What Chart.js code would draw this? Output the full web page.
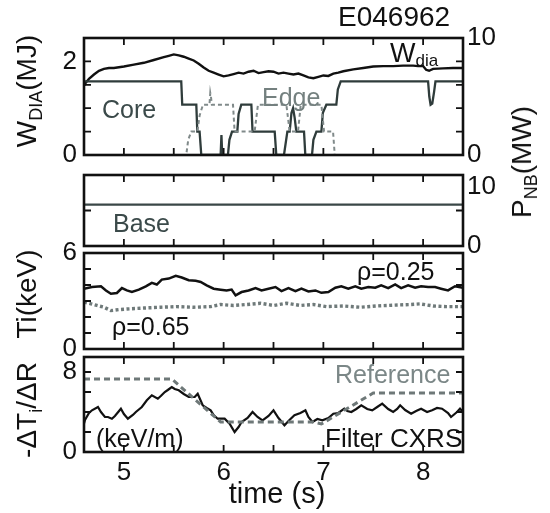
<!DOCTYPE html>
<html>
<head>
<meta charset="utf-8">
<script src="https://cdn.jsdelivr.net/npm/chart.js@4.4.1/dist/chart.umd.min.js"></script>
<style>
  html, body { margin: 0; padding: 0; background: #fff; }
  #fig { position: relative; width: 550px; height: 513px; overflow: hidden;
         font-family: "Liberation Sans", Arial, Helvetica, sans-serif; color: #111; }
  #fig canvas { position: absolute; left: 0; }
  .t { position: absolute; white-space: nowrap; line-height: 1; }
  .rot { transform: translate(-50%, -50%) rotate(-90deg); font-size: 28px; }
  .sb { font-size: 18px; position: relative; top: 6px; }
</style>
</head>
<body>
<div id="fig">
  <canvas id="c1" width="550" height="170" style="top:0px"></canvas>
  <canvas id="c2" width="550" height="100" style="top:160px"></canvas>
  <canvas id="c3" width="550" height="120" style="top:240px"></canvas>
  <canvas id="c4" width="550" height="173" style="top:340px"></canvas>

  <div class="t" style="left:338px;top:3px;font-size:28px">E046962</div>
  <div class="t" style="left:390px;top:40px;font-size:27px">W<span style="font-size:17px;position:relative;top:4px">dia</span></div>
  <div class="t" style="left:102px;top:97px;font-size:25px;color:#3b4a4a">Core</div>
  <div class="t" style="left:262px;top:85px;font-size:25px;color:#74807f">Edge</div>
  <div class="t" style="left:113px;top:211px;font-size:25px;color:#3b4a4a">Base</div>
  <div class="t" style="left:357px;top:259px;font-size:25px">ρ=0.25</div>
  <div class="t" style="left:112px;top:314px;font-size:25px">ρ=0.65</div>
  <div class="t" style="left:335px;top:362px;font-size:25px;color:#7b8787">Reference</div>
  <div class="t" style="left:96px;top:426px;font-size:25px">(keV/m)</div>
  <div class="t" style="left:325px;top:425px;font-size:26px">Filter CXRS</div>
  <div class="t" style="left:277px;top:479px;font-size:29px;transform:translateX(-50%)">time (s)</div>

  <div class="t rot" style="left:27px;top:91px">W<span class="sb">DIA</span>(MJ)</div>
  <div class="t rot" style="left:27px;top:294px">Ti(keV)</div>
  <div class="t rot" style="left:27px;top:410px">-ΔT<span class="sb">i</span>/ΔR</div>
  <div class="t rot" style="left:522px;top:162px">P<span class="sb">NB</span>(MW)</div>
</div>

<script>
// ---- shared time axis (s) ----
const tMin = 4.6, tMax = 8.4;
const timeTicks = [5, 5.5, 6, 6.5, 7, 7.5, 8];
const timeTickLabels = [5, 6, 7, 8];

// ---- diamagnetic stored energy (MJ) ----
const wdiaTime = [4.60, 4.62, 4.65, 4.70, 4.75, 4.80, 4.85, 4.90, 5.00, 5.10, 5.20, 5.30, 5.40,
  5.45, 5.50, 5.55, 5.60, 5.65, 5.70, 5.75, 5.80, 5.85, 5.90, 5.95, 6.00, 6.05, 6.10, 6.15, 6.20,
  6.25, 6.30, 6.35, 6.40, 6.45, 6.50, 6.55, 6.60, 6.65, 6.70, 6.75, 6.80, 6.85, 6.90, 6.95, 7.00,
  7.05, 7.10, 7.15, 7.20, 7.30, 7.40, 7.50, 7.60, 7.70, 7.80, 7.90, 7.95, 8.00, 8.03, 8.06, 8.10,
  8.20, 8.30, 8.40];
const wdiaEnergy = [1.48, 1.55, 1.63, 1.72, 1.80, 1.84, 1.86, 1.86, 1.89, 1.93, 1.97, 2.03, 2.09,
  2.12, 2.15, 2.13, 2.10, 2.06, 2.02, 1.95, 1.87, 1.80, 1.76, 1.72, 1.68, 1.70, 1.73, 1.76, 1.74,
  1.78, 1.80, 1.75, 1.77, 1.79, 1.78, 1.74, 1.76, 1.74, 1.72, 1.74, 1.70, 1.66, 1.64, 1.67, 1.70,
  1.69, 1.74, 1.76, 1.79, 1.83, 1.86, 1.89, 1.90, 1.90, 1.91, 1.91, 1.90, 1.90, 1.82, 1.80, 1.84,
  1.85, 1.86, 1.86];
const wdiaTicks = [0, 0.5, 1, 1.5, 2];
const wdiaTickLabels = [0, 2];

// ---- NBI power (MW): core and edge beams, base beams ----
const coreTime = [4.6, 5.575, 5.585, 5.726, 5.736, 5.759, 5.776, 5.970, 5.978, 5.986, 6.043, 6.058,
  6.084, 6.137, 6.150, 6.177, 6.278, 6.290, 6.512, 6.528, 6.605, 6.639, 6.662, 6.680, 6.696, 6.712,
  6.729, 6.806, 6.819, 6.886, 6.900, 6.930, 6.980, 6.995, 7.030, 7.130, 7.145, 7.174, 8.050, 8.062,
  8.075, 8.092, 8.110, 8.124, 8.4];
const corePower = [6.3, 6.3, 4.3, 4.3, 2.0, 2.0, 0, 0, 1.7, 0, 0, 1.3,
  2.0, 2.0, 3.5, 4.3, 4.3, 2.0, 2.0, 0, 0, 2.0, 2.0, 3.6, 4.0, 3.2,
  2.0, 2.0, 0, 0, 1.3, 2.0, 2.0, 3.6, 4.3, 4.3, 5.6, 6.3, 6.3, 5.0,
  4.3, 4.4, 5.4, 6.3, 6.3];
const edgeTime = [4.6, 5.625, 5.645, 5.676, 5.736, 5.760, 5.793, 5.858, 5.866, 5.874, 5.882, 6.094,
  6.110, 6.311, 6.344, 6.629, 6.662, 6.746, 6.773, 6.980, 7.007, 7.097, 7.114, 8.4];
const edgePower = [0, 0, 1.3, 2.0, 2.0, 3.4, 4.3, 4.3, 5.3, 4.9, 4.3, 4.3,
  2.0, 2.0, 4.3, 4.3, 2.0, 2.0, 4.3, 4.3, 2.0, 2.0, 0, 0];
const baseTime = [4.6, 8.4];
const basePower = [7.0, 7.0];
const pnbTicks = [0, 2, 4, 6, 8, 10];
const pnbTickLabels = [0, 10];
const baseTicks = [0, 6, 10];
const baseTickLabels = [0, 10];

// ---- ion temperature (keV) at rho = 0.25 and rho = 0.65 ----
const ti25Time = [4.60, 4.68, 4.77, 4.82, 4.87, 4.93, 4.98, 5.03, 5.08, 5.15, 5.22, 5.28, 5.33,
  5.38, 5.45, 5.52, 5.58, 5.65, 5.72, 5.77, 5.83, 5.90, 5.97, 6.03, 6.08, 6.12, 6.18, 6.25, 6.32,
  6.38, 6.45, 6.52, 6.58, 6.65, 6.72, 6.78, 6.85, 6.92, 6.98, 7.05, 7.12, 7.18, 7.25, 7.32, 7.38,
  7.45, 7.52, 7.58, 7.65, 7.72, 7.78, 7.85, 7.92, 7.98, 8.05, 8.12, 8.18, 8.25, 8.32, 8.40];
const ti25 = [3.77, 3.87, 3.92, 3.66, 3.45, 3.50, 3.81, 3.66, 3.56, 3.71, 3.92, 4.13, 4.03,
  4.34, 4.40, 4.57, 4.47, 4.30, 4.26, 4.19, 3.98, 3.77, 3.71, 3.66, 3.71, 3.35, 3.56, 3.66, 3.81,
  3.66, 3.77, 3.87, 3.62, 3.81, 3.62, 3.77, 3.60, 3.66, 3.51, 3.56, 3.83, 3.92, 3.77, 3.92, 3.77,
  3.87, 3.83, 3.98, 3.81, 4.04, 3.81, 3.98, 3.83, 3.92, 3.87, 3.87, 3.77, 3.66, 3.92, 3.83];
const ti65Time = [4.60, 4.67, 4.73, 4.80, 4.87, 4.95, 5.03, 5.20, 5.37, 5.53, 5.70, 5.87, 5.97,
  6.10, 6.23, 6.37, 6.50, 6.63, 6.77, 6.90, 7.03, 7.20, 7.37, 7.53, 7.70, 7.87, 7.97, 8.10, 8.23, 8.40];
const ti65 = [2.93, 2.82, 2.72, 2.61, 2.40, 2.46, 2.50, 2.56, 2.61, 2.65, 2.61, 2.65, 2.78,
  2.72, 2.78, 2.86, 2.72, 2.86, 2.72, 2.78, 2.65, 2.69, 2.61, 2.69, 2.74, 2.78, 2.82, 2.69, 2.65, 2.65];
const tiTicks = [0, 1, 2, 3, 4, 5, 6];
const tiTickLabels = [0, 6];

// ---- ion temperature gradient -dTi/dR (keV/m) ----
const gradRefTime = [4.6, 5.48, 5.97, 6.90, 6.98, 7.50, 8.4];
const gradRef = [7.3, 7.3, 3.0, 3.0, 2.8, 5.9, 5.9];
const gradTime = [4.58, 4.61, 4.65, 4.68, 4.74, 4.77, 4.81, 4.84, 4.88, 4.91, 4.97, 5.00, 5.04,
  5.09, 5.12, 5.18, 5.23, 5.28, 5.34, 5.37, 5.41, 5.44, 5.48, 5.51, 5.55, 5.60, 5.65, 5.71, 5.74,
  5.79, 5.83, 5.87, 5.90, 5.94, 6.01, 6.06, 6.11, 6.15, 6.18, 6.24, 6.29, 6.34, 6.39, 6.45, 6.50,
  6.55, 6.61, 6.66, 6.71, 6.77, 6.82, 6.85, 6.89, 6.94, 6.99, 7.05, 7.10, 7.15, 7.21, 7.24, 7.28,
  7.33, 7.38, 7.44, 7.49, 7.54, 7.59, 7.65, 7.70, 7.74, 7.77, 7.82, 7.88, 7.93, 7.98, 8.04, 8.09,
  8.14, 8.19, 8.25, 8.28, 8.34, 8.37, 8.40];
const gradCxrs = [2.17, 3.2, 3.9, 4.17, 4.5, 4.0, 3.5, 3.5, 3.33, 3.6, 4.33, 3.8, 3.33,
  3.7, 4.0, 4.5, 5.17, 5.67, 5.33, 5.6, 6.0, 6.2, 6.5, 6.3, 6.17, 5.8, 5.5, 5.5, 5.83,
  4.67, 4.4, 4.17, 3.7, 3.33, 3.33, 2.83, 2.0, 2.5, 3.0, 3.4, 4.0, 3.5, 3.17, 3.6, 4.17,
  3.4, 2.67, 3.2, 3.67, 3.9, 4.17, 3.5, 3.0, 3.3, 3.17, 3.4, 3.83, 3.9, 4.33, 4.1, 4.0,
  4.3, 4.67, 4.3, 4.17, 4.5, 4.83, 4.3, 4.0, 4.3, 4.67, 4.2, 3.83, 4.1, 4.33, 4.0, 4.17,
  4.4, 4.33, 3.9, 3.5, 4.0, 4.33, 4.0];
const gradTicks = [0, 2, 4, 6, 8];
const gradTickLabels = [0, 8];

// ---- drawing helpers ----
const FONT = '"Liberation Sans", Arial, Helvetica, sans-serif';
const INK = '#111';
const LEFT_W = 84, RIGHT_W = 87;

Chart.defaults.font.family = FONT;
Chart.defaults.color = INK;

const pts = (xs, ys) => xs.map((x, i) => ({ x: x, y: ys[i] }));

// box around each panel with inward-pointing tick marks on all four sides
const framePlugin = {
  id: 'frame',
  afterDatasetsDraw(chart, args, opts) {
    const ctx = chart.ctx, a = chart.chartArea, len = 7;
    const skip = opts.noMark || [];
    ctx.save();
    ctx.strokeStyle = INK;
    ctx.lineWidth = 1.8;
    ctx.beginPath();
    const xs = chart.scales.x;
    xs.ticks.forEach(t => {
      if (t.value <= xs.min || t.value >= xs.max) return;
      const px = xs.getPixelForValue(t.value);
      ctx.moveTo(px, a.top); ctx.lineTo(px, a.top + len);
      ctx.moveTo(px, a.bottom); ctx.lineTo(px, a.bottom - len);
    });
    const mark = (sc, onLeft, onRight) => {
      sc.ticks.forEach(t => {
        if (t.value <= sc.min || t.value >= sc.max || skip.includes(t.value)) return;
        const py = sc.getPixelForValue(t.value);
        if (onLeft) { ctx.moveTo(a.left, py); ctx.lineTo(a.left + len, py); }
        if (onRight) { ctx.moveTo(a.right, py); ctx.lineTo(a.right - len, py); }
      });
    };
    if (opts.both) mark(chart.scales[opts.both], true, true);
    if (opts.left) mark(chart.scales[opts.left], true, false);
    if (opts.right) mark(chart.scales[opts.right], false, true);
    ctx.stroke();
    ctx.lineWidth = 2.6;
    ctx.strokeRect(a.left, a.top, a.right - a.left, a.bottom - a.top);
    ctx.restore();
  }
};
Chart.register(framePlugin);

const tickFont = { family: FONT, size: 26, lineHeight: 1 };

function timeScale(show) {
  return {
    type: 'linear', min: tMin, max: tMax, display: show,
    grid: { display: false, drawTicks: false }, border: { display: false },
    afterBuildTicks: s => { s.ticks = timeTicks.map(v => ({ value: v })); },
    ticks: {
      autoSkip: false, maxRotation: 0, padding: 8, color: INK, font: tickFont,
      callback: v => timeTickLabels.includes(v) ? String(v) : ''
    },
    afterFit: s => { s.height = show ? 61 : 0; s.paddingLeft = 0; s.paddingRight = 0; }
  };
}

function valueScale(pos, min, max, tickValues, tickLabels, showLabels) {
  return {
    type: 'linear', position: pos, min: min, max: max,
    grid: { display: false, drawTicks: false }, border: { display: false },
    afterBuildTicks: s => { s.ticks = tickValues.map(v => ({ value: v })); },
    ticks: {
      display: showLabels, autoSkip: false, padding: pos === 'left' ? 7 : 4,
      color: INK, font: tickFont,
      callback: v => tickLabels.includes(v) ? String(v) : ''
    },
    afterFit: s => {
      s.width = pos === 'left' ? LEFT_W : RIGHT_W;
      s.paddingTop = 0; s.paddingBottom = 0;
    }
  };
}

function line(data, color, width, dash, axis) {
  const ds = {
    data: data, borderColor: color, borderWidth: width, borderDash: dash || [],
    pointRadius: 0, tension: 0, fill: false
  };
  if (axis) ds.yAxisID = axis;
  return ds;
}

function makeChart(id, datasets, scales, padding, frameOpts) {
  return new Chart(document.getElementById(id), {
    type: 'line',
    data: { datasets: datasets },
    options: {
      responsive: false, animation: false, events: [],
      devicePixelRatio: 1,
      layout: { padding: padding },
      plugins: { legend: { display: false }, tooltip: { enabled: false }, frame: frameOpts },
      scales: scales
    }
  });
}

// panel 1: stored energy (left) and core/edge beam power (right)
makeChart('c1', [
  line(pts(edgeTime, edgePower), '#808a8a', 2, [4, 3], 'yR'),
  line(pts(coreTime, corePower), '#2f3c3b', 2.3, null, 'yR'),
  line(pts(wdiaTime, wdiaEnergy), INK, 2.4, null, 'yL')
], {
  x: timeScale(false),
  yL: valueScale('left', 0, 2.5, wdiaTicks, wdiaTickLabels, true),
  yR: valueScale('right', 0, 10, pnbTicks, pnbTickLabels, true)
}, { top: 38, bottom: 15, left: 0, right: 0 }, { left: 'yL', right: 'yR' });

// panel 2: base beam power
makeChart('c2', [
  line(pts(baseTime, basePower), '#3a4747', 2.3, null, 'y')
], {
  x: timeScale(false),
  y: valueScale('right', 0, 12, baseTicks, baseTickLabels, true)
}, { top: 15, bottom: 14, left: LEFT_W, right: 0 }, { both: 'y', noMark: [10] });

// panel 3: ion temperature
makeChart('c3', [
  line(pts(ti65Time, ti65), '#6f7a7a', 3.4, [3, 2.5], 'y'),
  line(pts(ti25Time, ti25), INK, 2.5, null, 'y')
], {
  x: timeScale(false),
  y: valueScale('left', 0, 6, tiTicks, tiTickLabels, true)
}, { top: 13, bottom: 11, left: 0, right: RIGHT_W }, { both: 'y' });

// panel 4: ion temperature gradient, reference waveform and filter CXRS
makeChart('c4', [
  line(pts(gradRefTime, gradRef), '#6e7878', 3, [6, 4], 'y'),
  line(pts(gradTime, gradCxrs), INK, 2.2, null, 'y')
], {
  x: timeScale(true),
  y: valueScale('left', 0, 9.5, gradTicks, gradTickLabels, true)
}, { top: 17, bottom: 0, left: 0, right: RIGHT_W }, { both: 'y' });
</script>
</body>
</html>
